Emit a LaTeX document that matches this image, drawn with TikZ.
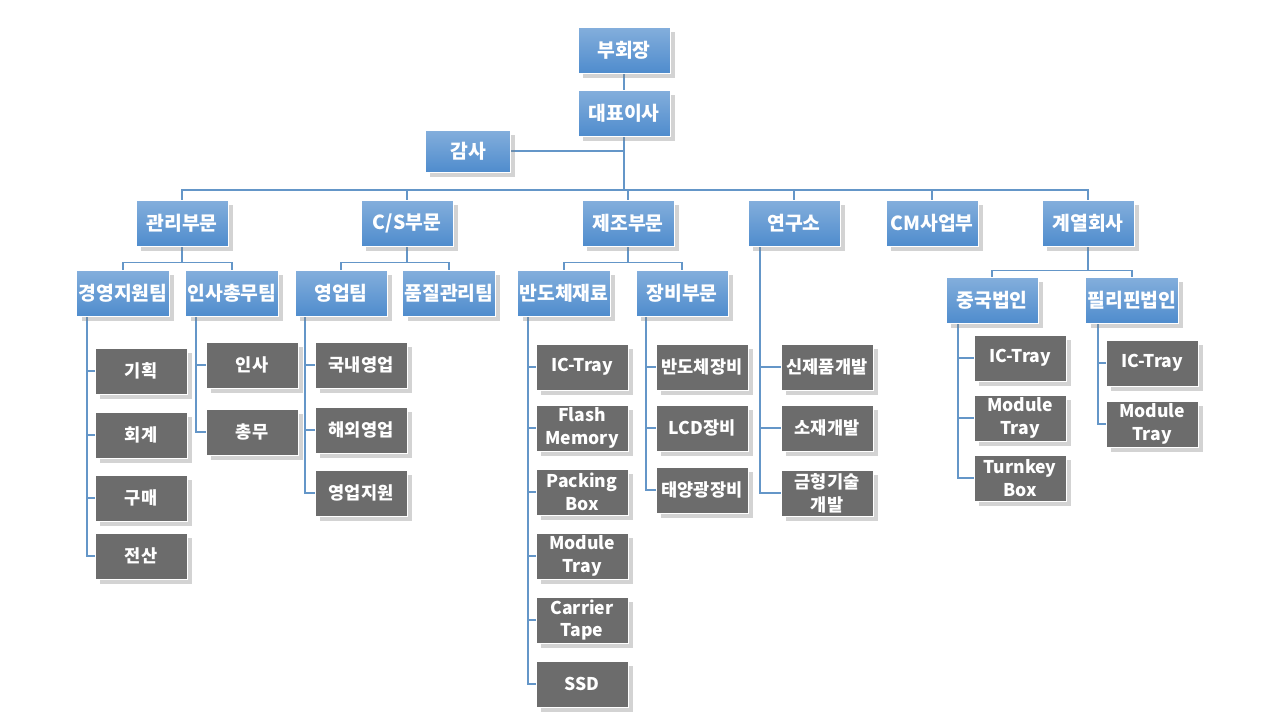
\documentclass[tikz,border=0pt]{standalone}
\usepackage{fontspec}
\setmainfont{Noto Sans CJK KR}
\usetikzlibrary{shadows,backgrounds}
\definecolor{boxblue}{RGB}{79,140,205}
\definecolor{linkblue}{RGB}{100,150,200}
\tikzset{
  blue box/.style={draw=white, thin, top color=boxblue!70!white, bottom color=boxblue,
      text=white, font=\bfseries\fontsize{11}{12}\selectfont, minimum width=1.84cm,
      minimum height=0.92cm, inner sep=1pt, drop shadow={opacity=0.35}},
  gray box/.style={draw=white, thin, fill=gray!85!black, text=white,
      font=\bfseries\fontsize{10}{13}\selectfont, minimum width=1.84cm,
      minimum height=0.92cm, inner sep=1pt, align=center, drop shadow={opacity=0.35}},
  link/.style={draw=linkblue, line width=0.6pt}
}
\begin{document}
\begin{tikzpicture}[x=0.02cm,y=-0.02cm]
    \useasboundingbox (0,0) rectangle (1280,720);
    % top
    \node [blue box] (vice) at (624,50) {부회장};
    \node [blue box] (ceo) at (624,113) {대표이사};
    \node [blue box, minimum width=1.7cm, minimum height=0.84cm] (audit) at (468,151) {감사};
    % divisions
    \node [blue box] (admin) at (182,223) {관리부문};
    \node [blue box] (cs) at (407,223) {C/S부문};
    \node [blue box] (mfg) at (628,223) {제조부문};
    \node [blue box] (lab) at (794,223) {연구소};
    \node [blue box] (cm) at (932,223) {CM사업부};
    \node [blue box] (affil) at (1088,223) {계열회사};
    % teams
    \node [blue box] (mgmt) at (123,293) {경영지원팀};
    \node [blue box] (hr) at (232,293) {인사총무팀};
    \node [blue box] (sales) at (341,293) {영업팀};
    \node [blue box] (qa) at (449,293) {품질관리팀};
    \node [blue box] (semi) at (564,293) {반도체재료};
    \node [blue box] (equip) at (682,293) {장비부문};
    \node [blue box] (china) at (992,300) {중국법인};
    \node [blue box] (phil) at (1132,300) {필리핀법인};
    % gray units
    \node [gray box] (plan) at (141,371) {기획};
    \node [gray box] (acct) at (141,435) {회계};
    \node [gray box] (buy) at (141,498) {구매};
    \node [gray box] (it) at (141,556) {전산};
    \node [gray box] (pers) at (252,365) {인사};
    \node [gray box] (gen) at (252,432) {총무};
    \node [gray box] (dom) at (361,365) {국내영업};
    \node [gray box] (ovs) at (361,430) {해외영업};
    \node [gray box] (ssup) at (361,493) {영업지원};
    \node [gray box] (ictray) at (582,367) {IC-Tray};
    \node [gray box] (flash) at (582,428) {Flash\\Memory};
    \node [gray box] (pack) at (582,492) {Packing\\Box};
    \node [gray box] (modtray) at (582,556) {Module\\Tray};
    \node [gray box] (carrier) at (582,620) {Carrier\\Tape};
    \node [gray box] (ssd) at (582,684) {SSD};
    \node [gray box] (semieq) at (702,367) {반도체장비};
    \node [gray box] (lcd) at (702,428) {LCD장비};
    \node [gray box] (solar) at (702,490) {태양광장비};
    \node [gray box] (newdev) at (827,367) {신제품개발};
    \node [gray box] (matdev) at (827,428) {소재개발};
    \node [gray box] (molddev) at (827,493) {금형기술\\개발};
    \node [gray box] (cnic) at (1020,358) {IC-Tray};
    \node [gray box] (cnmod) at (1020,418) {Module\\Tray};
    \node [gray box] (cnturn) at (1020,478) {Turnkey\\Box};
    \node [gray box] (phic) at (1152,363) {IC-Tray};
    \node [gray box] (phmod) at (1152,424) {Module\\Tray};
    % connectors
    \begin{scope}[on background layer]
    \draw [link] (vice) -- (ceo);
    \draw [link] (ceo.south) -- (624,190) coordinate (bus-top);
    \draw [link] (audit.east) -- (624,151);
    \foreach \d in {admin,cs,mfg,lab,cm,affil}
        \draw [link] (bus-top) -| (\d.north);
    \foreach \p/\a/\b in {admin/mgmt/hr, cs/sales/qa, mfg/semi/equip}
        \draw [link] (\p.south) -- ++(0,16) coordinate (bus-\p)
                    (\a.north) |- (bus-\p) -| (\b.north);
    \draw [link] (affil.south) -- ++(0,24) coordinate (bus-affil)
                 (china.north) |- (bus-affil) -| (phil.north);
    \foreach \p/\dx/\kids in {mgmt/-36/{plan,acct,buy,it}, hr/-36/{pers,gen},
            sales/-36/{dom,ovs,ssup}, semi/-36/{ictray,flash,pack,modtray,carrier,ssd},
            equip/-36/{semieq,lcd,solar}, lab/-34/{newdev,matdev,molddev},
            china/-34/{cnic,cnmod,cnturn}, phil/-34/{phic,phmod}}
        \foreach \k in \kids
            \draw [link] ([xshift=\dx*0.02cm]\p.south) |- (\k.west);
    \end{scope}
\end{tikzpicture}
\end{document}
